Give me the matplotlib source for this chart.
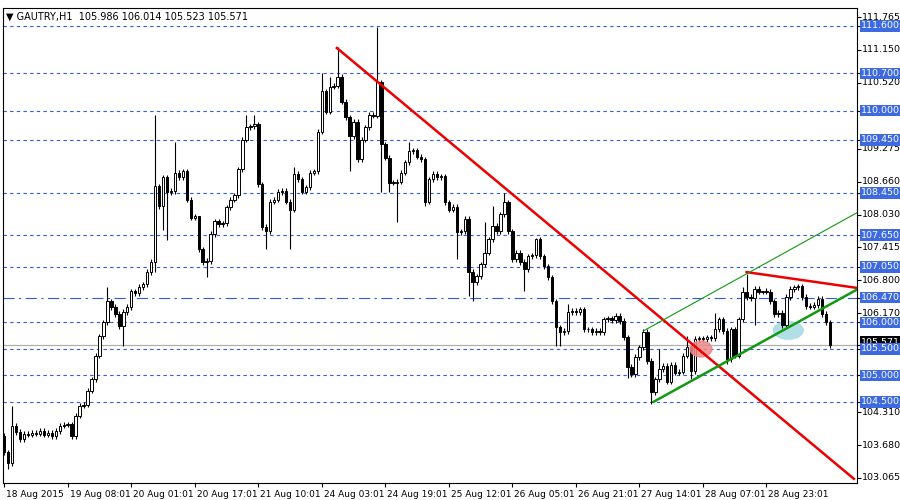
import numpy as np
import matplotlib
matplotlib.use("Agg")
import matplotlib.pyplot as plt
import matplotlib.transforms as mtrans
from matplotlib.patches import Ellipse

# closes, hourly bars, opens = previous close
closes = [
    103.55, 103.35, 104.05, 103.93, 103.80, 103.90, 103.88, 103.92, 103.90, 103.95,
    103.88, 103.92, 103.85, 103.95, 104.05, 104.07, 104.08, 103.85, 104.24, 104.43,
    104.45, 104.71, 104.93, 105.37, 105.74, 106.00, 106.40, 106.29, 106.16, 105.93,
    106.20, 106.29, 106.59, 106.55, 106.67, 106.72, 106.95, 107.14, 108.57, 108.19,
    108.74, 108.46, 108.48, 108.83, 108.74, 108.85, 108.32, 107.98, 108.00, 107.38,
    107.14, 107.16, 107.67, 107.91, 107.85, 107.87, 108.17, 108.32, 108.40, 108.89,
    109.45, 109.68, 109.70, 109.74, 108.61, 107.80, 107.72, 108.28, 108.32, 108.46,
    108.48, 108.28, 108.13, 108.80, 108.70, 108.47, 108.55, 108.83, 108.85, 109.60,
    110.36, 109.98, 110.45, 110.47, 110.64, 110.17, 109.87, 109.51, 109.79, 109.08,
    109.45, 109.68, 109.92, 109.90, 110.53, 109.36, 109.11, 108.64, 108.64, 108.66,
    108.83, 109.02, 109.23, 109.25, 109.13, 109.08, 108.28, 108.70, 108.80, 108.74,
    108.76, 108.27, 108.13, 108.18, 107.70, 107.72, 107.95, 106.95, 106.76, 106.87,
    107.10, 107.32, 107.57, 107.82, 107.72, 108.04, 108.27, 107.72, 107.19, 107.32,
    107.14, 107.00, 107.25, 107.27, 107.57, 107.25, 107.06, 106.85, 106.40, 105.91,
    105.82, 105.84, 106.20, 106.22, 106.20, 106.25, 105.87, 105.87, 105.82, 105.84,
    105.82, 106.06, 106.08, 106.04, 106.12, 106.03, 105.72, 105.16, 105.02, 105.35,
    105.53, 105.82, 105.27, 104.69, 104.93, 105.12, 105.18, 104.88, 105.20, 105.05,
    105.07, 105.37, 105.53, 105.08, 105.69, 105.70, 105.68, 105.72, 105.70, 105.87,
    106.06, 105.84, 105.31, 105.87, 105.37, 106.06, 106.57, 106.48, 106.46, 106.63,
    106.58, 106.60, 106.58, 106.40, 106.16, 106.18, 105.96, 106.48, 106.63, 106.66,
    106.68, 106.48, 106.31, 106.30, 106.33, 106.44, 106.16, 106.00, 105.571,
]
first_open = 103.86

# notable wick extremes (bar index: price)
highs_marked = {2: 104.43, 26: 106.67, 38: 109.92, 43: 109.40, 49: 108.00, 61: 109.92,
                63: 109.92, 73: 108.93, 80: 110.70, 82: 110.64, 84: 111.19, 94: 111.58,
                102: 109.40, 121: 107.90, 123: 108.20, 126: 108.45, 134: 107.60,
                142: 106.35, 165: 105.50, 172: 105.75, 179: 106.17, 186: 106.67,
                187: 106.92, 191: 106.60, 200: 106.72}
lows_marked = {1: 103.24, 30: 105.55, 38: 106.95, 40: 107.75, 41: 107.55, 51: 106.85,
               66: 107.38, 72: 107.38, 87: 108.85, 95: 108.46, 97: 108.46, 99: 107.90,
               106: 108.20, 114: 107.20, 117: 106.50, 118: 106.40, 131: 106.60,
               139: 105.55, 140: 105.55, 157: 104.95, 163: 104.47, 173: 104.93,
               182: 105.22, 189: 105.95, 196: 105.90, 208: 105.52}

levels = [111.600, 110.700, 110.000, 109.450, 108.450, 107.650, 107.050,
          106.470, 106.000, 105.500, 105.000, 104.500]
plain_ticks = [111.765, 111.150, 110.520, 109.275, 108.660, 108.030, 107.415,
               106.800, 106.170, 104.310, 103.680, 103.065]
last_price = 105.571

time_labels = ["18 Aug 2015", "19 Aug 08:01", "20 Aug 01:01", "20 Aug 17:01",
               "21 Aug 10:01", "24 Aug 03:01", "24 Aug 19:01", "25 Aug 12:01",
               "26 Aug 05:01", "26 Aug 21:01", "27 Aug 14:01", "28 Aug 07:01",
               "28 Aug 23:01"]
time_pos = [0, 16, 32, 48, 64, 80, 96, 112, 128, 144, 160, 176, 192]

# trend lines (bar index, price)
red_down = ([83.8, 214.0], [111.18, 103.05])
red_top = ([187.0, 215.0], [106.95, 106.65])
green_main = ([163.5, 215.0], [104.50, 106.63])
green_thin = ([161.0, 215.0], [105.84, 108.08])

fig = plt.figure(figsize=(9, 5), dpi=100)
ax = fig.add_axes([3/900, 17/500, 854/900, 475/500])
n = len(closes)
opens = [first_open] + closes[:-1]
xmin, xmax = -0.3, 214.8
ax.set_xlim(xmin, xmax)
ax.set_ylim(102.97, 111.935)

blue = "#2d5be3"
for lv in levels:
    ls = (0, (10, 4, 2, 4)) if lv == 106.470 else (0, (3, 3))
    ax.axhline(lv, color=blue, lw=0.8, ls=ls, zorder=1)
ax.axhline(last_price, color="#b0b0b0", lw=0.9, zorder=1)

for i in range(n):
    o, c = opens[i], closes[i]
    hi = highs_marked.get(i, max(o, c) + 0.05)
    lo = lows_marked.get(i, min(o, c) - 0.05)
    ax.vlines(i, lo, hi, color="black", lw=0.8, zorder=3)
    bot, top = min(o, c), max(o, c)
    h = max(top - bot, 0.012)
    ax.bar(i, h, bottom=bot, width=0.62, color="white" if c >= o else "black",
           edgecolor="black", lw=0.7, zorder=4)

ax.plot(*red_down, color="#ee0000", lw=1.8, zorder=5)
ax.plot(*red_top, color="#ee0000", lw=1.8, zorder=5)
ax.plot(*green_main, color="#119911", lw=1.8, zorder=5)
ax.plot(*green_thin, color="#119911", lw=0.8, zorder=5)
ax.add_patch(Ellipse((175.5, 105.5), 5.5, 0.3, color="#ee8888", alpha=0.85, zorder=4.5))
ax.add_patch(Ellipse((197.5, 105.85), 7.5, 0.33, color="#a9dce3", alpha=0.9, zorder=2))

ax.yaxis.tick_right()
ax.set_yticks(plain_ticks + [last_price] + levels)
ax.set_yticklabels([""] * (len(plain_ticks) + 1 + len(levels)))
for t in plain_ticks:
    ax.text(xmax + 1.2, t, f"{t:.3f}", fontsize=6.8, va="center", ha="left",
            clip_on=False)
ax.text(xmax + 1.0, last_price + 0.06, f"{last_price:.3f}", fontsize=6.8, va="center",
        ha="left", color="white", clip_on=False,
        bbox=dict(boxstyle="square,pad=0.15", fc="black", ec="none"))
for lv in levels:
    ax.text(xmax + 1.0, lv, f"{lv:.3f}", fontsize=6.8, va="center", ha="left",
            color="white", clip_on=False,
            bbox=dict(boxstyle="square,pad=0.15", fc="#3d6ae0", ec="none"))
ax.tick_params(axis="y", length=3, width=0.8, pad=1)
ax.set_xticks(time_pos)
ax.set_xticklabels(time_labels, fontsize=6.5, ha="left")
ax.tick_params(axis="x", length=3, width=0.8, pad=2)
shift = mtrans.ScaledTranslation(2/100, 0, fig.dpi_scale_trans)
for lab in ax.get_xticklabels():
    lab.set_transform(lab.get_transform() + shift)
for sp in ax.spines.values():
    sp.set_linewidth(0.8)

ax.text(0.004, 0.992, "\u25bc GAUTRY,H1  105.986 106.014 105.523 105.571",
        transform=ax.transAxes, fontsize=7, va="top", ha="left")

fig.savefig("out.png", dpi=100)
